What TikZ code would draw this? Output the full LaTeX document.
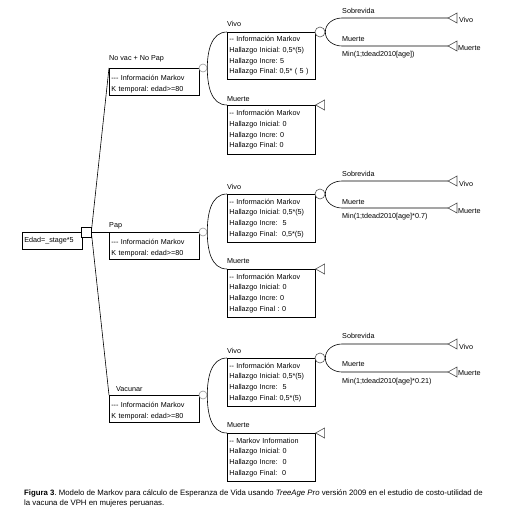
\documentclass[tikz,border=0pt]{standalone}
\usepackage{fontspec}
\setmainfont{Liberation Sans}
\frenchspacing
\newcommand{\fs}{\fontsize{7.2}{10.7}\selectfont}
\newcommand{\capfs}{\fontsize{7.8}{10}\selectfont}
\tikzset{
  every node/.style={font=\fs},
  lbl/.style={inner sep=0pt, anchor=base west},
  ibox/.style={draw, line width=0.6pt, anchor=north west, minimum width=88pt, text width=84pt, align=left, inner sep=2pt, minimum height=47pt},
  bbox/.style={draw, line width=0.6pt, anchor=north west, minimum width=90pt, text width=86pt, align=left, inner sep=2pt, minimum height=27pt},
  chance/.style={circle, draw=black!40, line width=0.6pt, fill=white, inner sep=0pt, minimum size=8pt},
  chancetwo/.style={circle, draw=black!65, line width=0.6pt, fill=white, inner sep=0pt, minimum size=10pt},
  ln/.style={line width=0.6pt},
  tri/.style={line width=0.6pt, draw=black!70}
}
\begin{document}
\begin{tikzpicture}[x=1pt,y=-1pt]
\useasboundingbox (0,0) rectangle (526,517);

% root
\node[draw, ln, anchor=north west, minimum width=60pt, minimum height=17pt, inner sep=2pt, text width=56pt, align=left] (root) at (22,232) {Edad=\_stage*5};
\node[draw, ln, fill=white, minimum size=10pt, inner sep=0pt] (sq) at (86,232) {};

% branch boxes
\node[bbox] (nv) at (109,68) {\rule{0pt}{10.5pt}-{}-{}- Información Markov\\K temporal: edad>=80};
\node[bbox] (pap) at (109,232) {\rule{0pt}{10.5pt}-{}-{}- Información Markov\\K temporal: edad>=80};
\node[bbox] (vac) at (109,395) {\rule{0pt}{10.5pt}-{}-{}- Información Markov\\K temporal: edad>=80};
\node[lbl] (lnv) at (109,60.5) {No vac + No Pap};
\node[lbl] (lpap) at (109,227.5) {Pap};
\node[lbl] (lvac) at (116,391.5) {Vacunar};

\draw[ln] (sq.east) -- (nv.north west);
\draw[ln] (sq.east) -- (pap.north west);
\draw[ln] (sq.east) -- (vac.north west);

% chance nodes level 1
\node[chance] (c1) at (203,68) {};
\node[chance] (c2) at (203,232) {};
\node[chance] (c3) at (203,395) {};

% ---------- group 1 ----------
\node[ibox] (v1) at (227,32) {-{}- Información Markov\\Hallazgo Inicial: 0,5*(5)\\Hallazgo Incre: 5\\Hallazgo Final: 0,5* ( 5 )};
\node[ibox, minimum height=49pt] (m1) at (227,105) {-{}- Información Markov\\Hallazgo Inicial: 0\\Hallazgo Incre: 0\\Hallazgo Final: 0};
\node[lbl] (lv1) at (227,26.5) {Vivo};
\node[lbl] (lm1) at (227,101.5) {Muerte};
\draw[ln] (c1.east) to[out=90,in=180] (v1.north west);
\draw[ln] (c1.east) to[out=-90,in=180] (m1.north west);
\draw[tri] (m1.north east) -- ++(9,-5) -- ++(0,10) -- cycle;
\node[chancetwo] (cc1) at (320,32) {};
\coordinate (s1) at (342,18);
\coordinate (d1) at (342,46);
\coordinate (ts1) at (448,18);
\coordinate (td1) at (448,46);
\draw[ln] (cc1.east) to[out=90,in=180] (s1) -- (ts1);
\draw[ln] (cc1.east) to[out=-90,in=180] (d1) -- (td1);
\draw[tri] (ts1) -- ++(9,-5) -- ++(0,10) -- cycle;
\draw[tri] (td1) -- ++(9,-5) -- ++(0,10) -- cycle;
\node[lbl] (ls1) at (342,13.5) {Sobrevida};
\node[lbl] (ld1) at (342,41.5) {Muerte};
\node[lbl] (lp1) at (342,56.5) {Min(1;tdead2010[age])};
\node[lbl] (tv1) at (459,22.5) {Vivo};
\node[lbl] (tm1) at (458,50.5) {Muerte};

% ---------- group 2 ----------
\node[ibox, minimum height=48pt] (v2) at (227,194) {-{}- Información Markov\\Hallazgo Inicial: 0,5*(5)\\Hallazgo Incre:~~5\\Hallazgo Final:~~0,5*(5)};
\node[ibox, minimum height=48pt] (m2) at (227,269) {-{}- Información Markov\\Hallazgo Inicial: 0\\Hallazgo Incre: 0\\Hallazgo Final : 0};
\node[lbl] (lv2) at (227,189.5) {Vivo};
\node[lbl] (lm2) at (227,263.5) {Muerte};
\draw[ln] (c2.east) to[out=90,in=180] (v2.north west);
\draw[ln] (c2.east) to[out=-90,in=180] (m2.north west);
\draw[tri] (m2.north east) -- ++(9,-5) -- ++(0,10) -- cycle;
\node[chancetwo] (cc2) at (320,194) {};
\coordinate (s2) at (342,181);
\coordinate (d2) at (342,208);
\coordinate (ts2) at (448,181);
\coordinate (td2) at (448,208);
\draw[ln] (cc2.east) to[out=90,in=180] (s2) -- (ts2);
\draw[ln] (cc2.east) to[out=-90,in=180] (d2) -- (td2);
\draw[tri] (ts2) -- ++(9,-5) -- ++(0,10) -- cycle;
\draw[tri] (td2) -- ++(9,-5) -- ++(0,10) -- cycle;
\node[lbl] (ls2) at (342,176.5) {Sobrevida};
\node[lbl] (ld2) at (342,204) {Muerte};
\node[lbl] (lp2) at (342,218.5) {Min(1;tdead2010[age]*0.7)};
\node[lbl] (tv2) at (459,186) {Vivo};
\node[lbl] (tm2) at (458,213) {Muerte};

% ---------- group 3 ----------
\node[ibox, minimum height=48pt] (v3) at (227,358) {-{}- Información Markov\\Hallazgo Inicial: 0,5*(5)\\Hallazgo Incre:~~5\\Hallazgo Final: 0,5*(5)};
\node[ibox, minimum height=48pt] (m3) at (227,433) {-{}- Markov Information\\Hallazgo Inicial: 0\\Hallazgo Incre:~~0\\Hallazgo Final:~~0};
\node[lbl] (lv3) at (227,353.5) {Vivo};
\node[lbl] (lm3) at (227,427.5) {Muerte};
\draw[ln] (c3.east) to[out=90,in=180] (v3.north west);
\draw[ln] (c3.east) to[out=-90,in=180] (m3.north west);
\draw[tri] (m3.north east) -- ++(9,-5) -- ++(0,10) -- cycle;
\node[chancetwo] (cc3) at (320,358) {};
\coordinate (s3) at (342,344);
\coordinate (d3) at (342,372);
\coordinate (ts3) at (448,344);
\coordinate (td3) at (448,372);
\draw[ln] (cc3.east) to[out=90,in=180] (s3) -- (ts3);
\draw[ln] (cc3.east) to[out=-90,in=180] (d3) -- (td3);
\draw[tri] (ts3) -- ++(9,-5) -- ++(0,10) -- cycle;
\draw[tri] (td3) -- ++(9,-5) -- ++(0,10) -- cycle;
\node[lbl] (ls3) at (342,338.5) {Sobrevida};
\node[lbl] (ld3) at (342,366.5) {Muerte};
\node[lbl] (lp3) at (342,383.5) {Min(1;tdead2010[age]*0.21)};
\node[lbl] (tv3) at (459,349.5) {Vivo};
\node[lbl] (tm3) at (458,375.5) {Muerte};

% caption
\node[anchor=north west, inner sep=0pt, align=left, font=\capfs] (cap) at (24,489.8) {\textbf{Figura 3}. Modelo de Markov para cálculo de Esperanza de Vida usando \textit{TreeAge Pro} versión 2009 en el estudio de costo-utilidad de\\la vacuna de VPH en mujeres peruanas.};
\end{tikzpicture}
\end{document}
